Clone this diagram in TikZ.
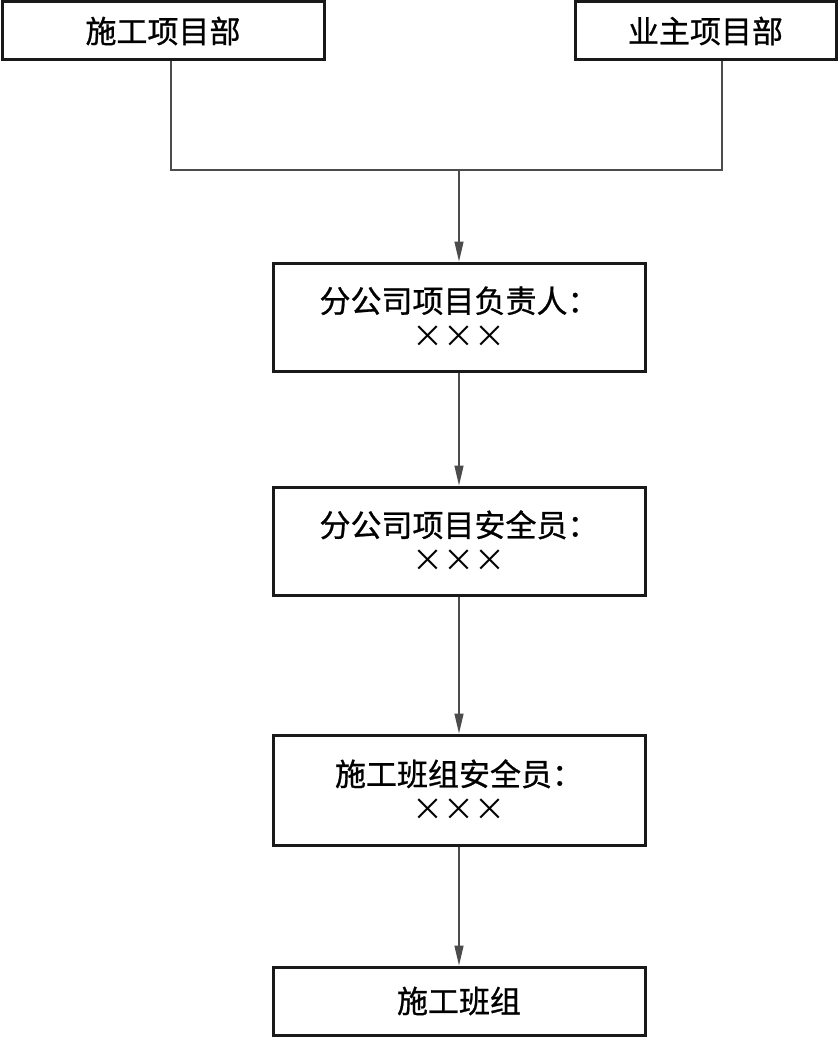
\documentclass[tikz,border=0pt]{standalone}
\usepackage{fontspec}
\setmainfont[FakeBold=0.8,BoldFont={Noto Sans CJK SC}]{Noto Sans CJK SC}
\newfontfamily\xfont{Noto Sans CJK SC}
\usetikzlibrary{arrows.meta}
\begin{document}
\begin{tikzpicture}[x=1pt,y=-1pt,
  box/.style={draw=black!90, line width=3pt, fill=white, inner sep=0pt, align=center,
    font=\fontsize{31}{35}\selectfont},
  conn/.style={draw=black!70, line width=1.4pt},
  arr/.style={conn, -{Triangle[length=20pt,width=9pt]}}]
\useasboundingbox[fill=white] (0,0) rectangle (840,1038);
\node[box, minimum width=322pt, minimum height=58pt] (a) at (163,31) {施工项目部};
\node[box, minimum width=261pt, minimum height=58pt] (b) at (705.5,31) {业主项目部};
\node[box, minimum width=372pt, minimum height=108pt] (c) at (459,317) {分公司项目负责人：\\{\xfont ×××}};
\node[box, minimum width=372pt, minimum height=108pt] (d) at (459,541) {分公司项目安全员：\\{\xfont ×××}};
\node[box, minimum width=372pt, minimum height=110pt] (e) at (459,790) {施工班组安全员：\\{\xfont ×××}};
\node[box, minimum width=372pt, minimum height=68pt] (f) at (459,1001) {施工班组};
\coordinate (ja) at (171,170);
\coordinate (jb) at (722,170);
\coordinate (jm) at (459,170);
\draw[conn] (a.south -| ja) -- (ja) -- (jb) -- (b.south -| jb);
\draw[arr] (jm) -- (c.north);
\draw[arr] (c.south) -- (d.north);
\draw[arr] (d.south) -- (e.north);
\draw[arr] (e.south) -- (f.north);
\end{tikzpicture}
\end{document}
